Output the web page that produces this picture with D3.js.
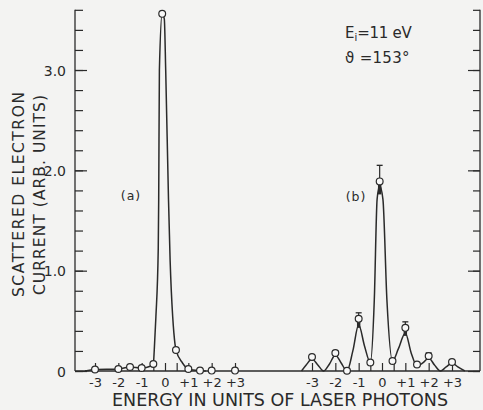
<!DOCTYPE html>
<html><head><meta charset="utf-8">
<script src="https://cdn.jsdelivr.net/npm/d3@7"></script>
<style>
html,body{margin:0;padding:0;background:#f3f3f2;}
svg{display:block;}
text{font-family:"DejaVu Sans",sans-serif;fill:#2a2a2a;}
</style></head>
<body><svg id="c" width="483" height="410"></svg>
<script>
// ---- data ----
const photonTickValues = [-3, -2, -1, -0.5, 0, 0.5, 1, 2, 3];
const photonLabelValues = [-3, -2, -1, 0, 1, 2, 3];
const photonLabels = ["-3", "-2", "-1", "0", "+1", "+2", "+3"];
const yMinorTicks = [0,0.2,0.4,0.6,0.8,1,1.2,1.4,1.6,1.8,2,2.2,2.4,2.6,2.8,3,3.2,3.4,3.6];
const yMajorTicks = [0, 1, 2, 3];
const yMajorLabels = ["0", "1.0", "2.0", "3.0"];

// (a) measured points
const aPointX = [-3, -2, -1.5, -1, -0.5, -0.12, 0.47, 1, 1.5, 2, 3];
const aPointY = [0.015, 0.02, 0.04, 0.03, 0.07, 3.56, 0.21, 0.02, 0.004, 0.004, 0.004];
// (a) drawn curve
const aCurveX = [-3.43, -3, -2, -1.5, -1, -0.6, -0.5, -0.46, -0.39, -0.29, -0.27, -0.24, -0.12, -0.03, 0.03, 0.15, 0.22, 0.33, 0.38, 0.47, 0.75, 1, 1.5, 1.75];
const aCurveY = [0, 0.015, 0.02, 0.04, 0.03, 0.05, 0.07, 0.21, 0.54, 1.21, 1.71, 3.0, 3.56, 3.51, 3.0, 1.71, 1.1, 0.54, 0.38, 0.21, 0.08, 0.02, 0.003, 0];

// (b) measured points
const bPointX = [-3, -2, -1.5, -1, -0.5, -0.1, 0.45, 1, 1.5, 2, 3];
const bPointY = [0.14, 0.18, 0.003, 0.52, 0.085, 1.89, 0.10, 0.43, 0.065, 0.15, 0.09];
// (b) error bars
const bErrX = [-2, -1, -0.1, 1, 2];
const bErrHi = [0.20, 0.58, 2.05, 0.49, 0.18];
const bErrLo = [0.14, 0.43, 1.76, 0.35, 0.11];
// (b) drawn curve
const bCurveX = [-3.45, -3.25, -3, -2.75, -2.5, -2.25, -2, -1.75, -1.5, -1.25, -1, -0.75, -0.5, -0.33, -0.21, -0.1, 0.04, 0.21, 0.45, 0.7, 1, 1.25, 1.5, 1.75, 2, 2.25, 2.5, 2.75, 3, 3.25, 3.55];
const bCurveY = [0, 0.06, 0.12, 0.06, 0.0, 0.07, 0.16, 0.08, 0.0, 0.2, 0.46, 0.25, 0.085, 0.71, 1.71, 1.85, 1.71, 0.71, 0.10, 0.22, 0.38, 0.18, 0.05, 0.08, 0.13, 0.06, 0.0, 0.04, 0.08, 0.04, 0];

// ---- drawing ----
const ink = "#2a2a2a";
const svg = d3.select("#c");
const y = d3.scaleLinear().domain([0, 3.6]).range([371, 371 - 3.6 * 100.33]);
const xa = d3.scaleLinear().domain([-3, 3]).range([95, 235]);
const xb = d3.scaleLinear().domain([-3, 3]).range([312, 452]);
const xLeft = 75, xRight = 480;

// frame lines
svg.append("line").attr("x1", xLeft).attr("x2", xLeft).attr("y1", y(0)).attr("y2", y(3.6)).attr("stroke", ink).attr("stroke-width", 1.3);
svg.append("line").attr("x1", xRight).attr("x2", xRight).attr("y1", y(0)).attr("y2", y(3.6)).attr("stroke", ink).attr("stroke-width", 1.3);
svg.append("line").attr("x1", xLeft).attr("x2", xRight).attr("y1", y(0)).attr("y2", y(0)).attr("stroke", ink).attr("stroke-width", 1.3);

function styleAxis(g){ g.select(".domain").remove(); g.selectAll("line").attr("stroke", ink).attr("stroke-width", 1.2); }

// left axis ticks (inward)
svg.append("g").attr("transform", `translate(${xLeft},0)`).call(d3.axisRight(y).tickValues(yMinorTicks).tickSize(8).tickFormat("")).call(styleAxis);
svg.append("g").attr("transform", `translate(${xLeft},0)`).call(d3.axisRight(y).tickValues(yMajorTicks).tickSize(12).tickFormat("")).call(styleAxis);
// left labels
svg.append("g").attr("transform", `translate(${xLeft - 6},0)`)
  .call(d3.axisLeft(y).tickValues(yMajorTicks).tickSize(0).tickFormat((d,i) => yMajorLabels[i]))
  .call(g => { g.select(".domain").remove(); g.selectAll("text").attr("font-size", 14).attr("font-family", "DejaVu Sans").attr("fill", ink).attr("dy", "0.36em"); });
// right axis ticks (inward)
svg.append("g").attr("transform", `translate(${xRight},0)`).call(d3.axisLeft(y).tickValues(yMinorTicks).tickSize(7).tickFormat("")).call(styleAxis);
svg.append("g").attr("transform", `translate(${xRight},0)`).call(d3.axisLeft(y).tickValues(yMajorTicks).tickSize(12).tickFormat("")).call(styleAxis);

// bottom ticks & labels for each group
[xa, xb].forEach(xs => {
  svg.append("g").attr("transform", `translate(0,${y(0)})`)
    .call(d3.axisTop(xs).tickValues(photonTickValues).tickSize(8).tickSizeOuter(0).tickFormat("")).call(styleAxis);
  svg.append("g").attr("transform", `translate(0,${y(0) + 4})`)
    .call(d3.axisBottom(xs).tickValues(photonLabelValues).tickSize(0).tickFormat((d,i) => photonLabels[i]))
    .call(g => { g.select(".domain").remove(); g.selectAll("text").attr("font-size", 13).attr("font-family", "DejaVu Sans").attr("fill", ink); });
});

const lineGen = xs => d3.line().x(d => xs(d[0])).y(d => y(d[1])).curve(d3.curveMonotoneX);

// curves
svg.append("path").datum(d3.zip(aCurveX, aCurveY)).attr("d", lineGen(xa)).attr("fill", "none").attr("stroke", ink).attr("stroke-width", 1.5);
svg.append("path").datum(d3.zip(bCurveX, bCurveY)).attr("d", lineGen(xb)).attr("fill", "none").attr("stroke", ink).attr("stroke-width", 1.5);

// error bars (b)
const eb = svg.append("g");
d3.zip(bErrX, bErrHi, bErrLo).forEach(([ex, hi, lo]) => {
  const i = bPointX.indexOf(ex);
  const yc = bPointY[i];
  eb.append("line").attr("x1", xb(ex)).attr("x2", xb(ex)).attr("y1", y(hi)).attr("y2", y(yc)).attr("stroke", ink).attr("stroke-width", 1.2);
  eb.append("line").attr("x1", xb(ex) - 3).attr("x2", xb(ex) + 3).attr("y1", y(hi)).attr("y2", y(hi)).attr("stroke", ink).attr("stroke-width", 1.3);
  eb.append("line").attr("x1", xb(ex)).attr("x2", xb(ex)).attr("y1", y(yc)).attr("y2", y(lo)).attr("stroke", ink).attr("stroke-width", 3.4);
});

// points
function pts(xs, X, Y){
  svg.append("g").selectAll("circle").data(d3.zip(X, Y)).join("circle")
    .attr("cx", d => xs(d[0])).attr("cy", d => y(d[1])).attr("r", 3.4)
    .attr("fill", "#f8f8f8").attr("stroke", ink).attr("stroke-width", 1.2);
}
pts(xa, aPointX, aPointY);
pts(xb, bPointX, bPointY);

// texts
svg.append("text").attr("x", 131).attr("y", 200).attr("text-anchor", "middle").attr("font-size", 12.5).attr("letter-spacing", 1).text("(a)");
svg.append("text").attr("x", 356).attr("y", 201).attr("text-anchor", "middle").attr("font-size", 12.5).attr("letter-spacing", 1).text("(b)");

const t1 = svg.append("text").attr("x", 345).attr("y", 38).attr("font-size", 15);
t1.append("tspan").text("E");
t1.append("tspan").attr("font-size", 10).attr("dy", 3).text("i");
t1.append("tspan").attr("dy", -3).attr("letter-spacing", -0.3).text("=11 eV");
svg.append("text").attr("x", 345).attr("y", 63).attr("font-size", 15).attr("letter-spacing", 0.3).text("ϑ =153°");

svg.append("text").attr("transform", "translate(23.5,194.5) rotate(-90)").attr("text-anchor", "middle")
  .attr("font-size", 15.5).attr("textLength", 205).attr("lengthAdjust", "spacing").text("SCATTERED ELECTRON");
svg.append("text").attr("transform", "translate(44.5,195) rotate(-90)").attr("text-anchor", "middle")
  .attr("font-size", 15.5).attr("textLength", 200).attr("lengthAdjust", "spacing").text("CURRENT (ARB. UNITS)");
svg.append("text").attr("x", 280).attr("y", 406).attr("text-anchor", "middle")
  .attr("font-size", 17.5).attr("textLength", 336).attr("lengthAdjust", "spacing").text("ENERGY IN UNITS OF LASER PHOTONS");
</script></body></html>
